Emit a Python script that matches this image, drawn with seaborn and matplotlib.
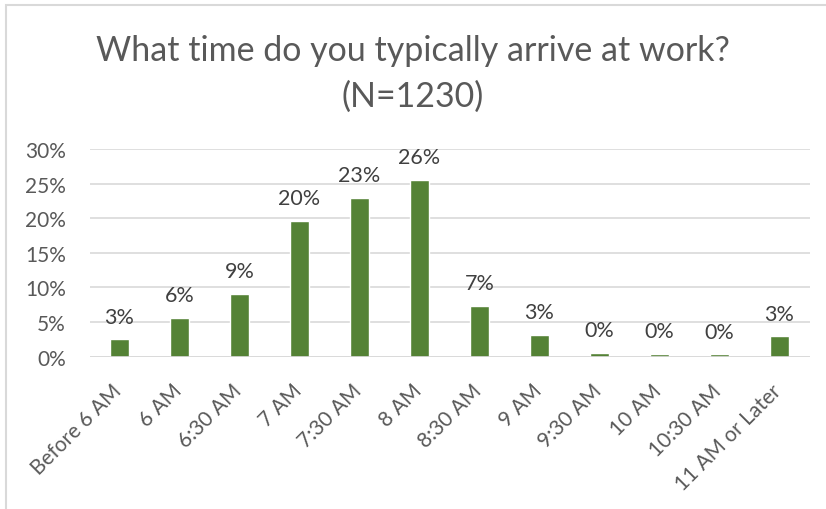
import matplotlib
matplotlib.use("Agg")
import matplotlib.pyplot as plt
import matplotlib.transforms as mtransforms
import seaborn as sns
import pandas as pd
from matplotlib.ticker import PercentFormatter, MultipleLocator
from matplotlib.patches import Rectangle

categories = ["Before 6 AM", "6 AM", "6:30 AM", "7 AM", "7:30 AM", "8 AM",
              "8:30 AM", "9 AM", "9:30 AM", "10 AM", "10:30 AM", "11 AM or Later"]
shares = [0.025, 0.056, 0.091, 0.196, 0.229, 0.255, 0.073, 0.031, 0.005, 0.004, 0.003, 0.029]
labels = ["3%", "6%", "9%", "20%", "23%", "26%", "7%", "3%", "0%", "0%", "0%", "3%"]
title = "What time do you typically arrive at work?\n(N=1230)"

sns.set_theme(style="white")
plt.rcParams["font.family"] = ["Lato", "DejaVu Sans"]

df = pd.DataFrame({"cat": categories, "val": shares})

fig = plt.figure(figsize=(8.26, 5.10), dpi=100)
ax = fig.add_axes([89.5 / 826, 152.5 / 510, 720 / 826, 207.5 / 510])

sns.barplot(data=df, x="cat", y="val", color="#548235", width=0.31,
            saturation=1, ax=ax)

ax.set_ylim(0, 0.30)
ax.set_xlim(-0.5, len(categories) - 0.5)
ax.yaxis.set_major_locator(MultipleLocator(0.05))
ax.yaxis.set_major_formatter(PercentFormatter(1.0, decimals=0))
ax.grid(axis="y", color="#d9d9d9", linewidth=1.2)
ax.set_axisbelow(True)
for s in ["top", "right", "left", "bottom"]:
    ax.spines[s].set_visible(False)
ax.axhline(0, color="#d9d9d9", linewidth=1.2, zorder=1)
ax.set_xlabel("")
ax.set_ylabel("")
ax.tick_params(axis="y", length=0, pad=17, labelsize=15, labelcolor="#595959")
ax.tick_params(axis="x", length=0, pad=17, labelsize=15, labelcolor="#595959")
shift = mtransforms.ScaledTranslation(-8 / 100, 0, fig.dpi_scale_trans)
for t in ax.get_xticklabels():
    t.set_rotation(45)
    t.set_ha("right")
    t.set_rotation_mode("anchor")
    t.set_va("top")
    t.set_transform(t.get_transform() + shift)

for i, (v, lab) in enumerate(zip(shares, labels)):
    ax.annotate(lab, (i, v), xytext=(0, 12), textcoords="offset points",
                ha="center", va="baseline", fontsize=15.5, color="#404040")

fig.text(0.5, 1 - 74 / 510, title, ha="center", va="center",
         fontsize=24.5, color="#595959", linespacing=1.5)

fig.patches.append(Rectangle((6 / 826, -0.1), 2, 1.1 - 6 / 510,
                             transform=fig.transFigure, fill=False,
                             edgecolor="#d9d9d9", linewidth=1.5))

fig.savefig("out.png", dpi=100, facecolor="white")
